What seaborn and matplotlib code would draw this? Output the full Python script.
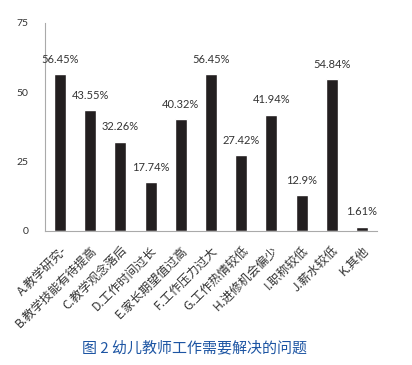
import numpy as np
import pandas as pd
import seaborn as sns
import matplotlib.pyplot as plt

categories = ['A.教学研究-', 'B.教学技能有待提高', 'C.教学观念落后', 'D.工作时间过长',
              'E.家长期望值过高', 'F.工作压力过大', 'G.工作热情较低', 'H.进修机会偏少',
              'I.职称较低', 'J.薪水较低', 'K.其他']
values = [56.45, 43.55, 32.26, 17.74, 40.32, 56.45, 27.42, 41.94, 12.9, 54.84, 1.61]
value_labels = ['56.45%', '43.55%', '32.26%', '17.74%', '40.32%', '56.45%',
                '27.42%', '41.94%', '12.9%', '54.84%', '1.61%']
yticks = [0, 25, 50, 75]
caption = '图 2 幼儿教师工作需要解决的问题'

sns.set_theme(style='white')
plt.rcParams['font.family'] = ['Noto Sans CJK SC', 'DejaVu Sans']

df = pd.DataFrame({'cat': categories, 'val': values})

fig = plt.figure(figsize=(4.12, 3.65), dpi=100)
ax = fig.add_axes([45 / 412, 1 - 231 / 365, 332 / 412, 208 / 365])
sns.barplot(data=df, x='cat', y='val', color='#231f20', width=0.4,
            saturation=1, ax=ax)

ax.set_xlim(-0.5, len(categories) - 0.5)
ax.set_ylim(0, 75)
ax.set_yticks(yticks)
ax.set_yticklabels([str(t) for t in yticks], fontsize=7.5, color='#333333',
                   family=['Lato', 'DejaVu Sans'])
ax.tick_params(axis='y', length=0, pad=12)
ax.set_xlabel('')
ax.set_ylabel('')

# boundary ticks under the x axis
ax.set_xticks(np.arange(-0.5, len(categories)), minor=True)
ax.tick_params(axis='x', which='minor', length=7.5, width=0.8, color='#aaaaaa',
               direction='out')
ax.tick_params(axis='x', which='major', length=0, pad=9)
ax.set_xticks(range(len(categories)))
ax.set_xticklabels(categories, rotation=45, ha='right', rotation_mode='anchor',
                   fontsize=8.8, color='#333333')

for s in ['top', 'right']:
    ax.spines[s].set_visible(False)
for s in ['left', 'bottom']:
    ax.spines[s].set_color('#aaaaaa')
    ax.spines[s].set_linewidth(0.8)

for i, (v, lab) in enumerate(zip(values, value_labels)):
    ax.text(i, v + 5.3, lab, ha='center', va='center', fontsize=8,
            color='#333333', family=['Lato', 'DejaVu Sans'])

fig.text(195 / 412, 1 - 348 / 365, caption, ha='center', va='center',
         fontsize=10.8, color='#1d55a3')

fig.savefig('out.png', dpi=100)
